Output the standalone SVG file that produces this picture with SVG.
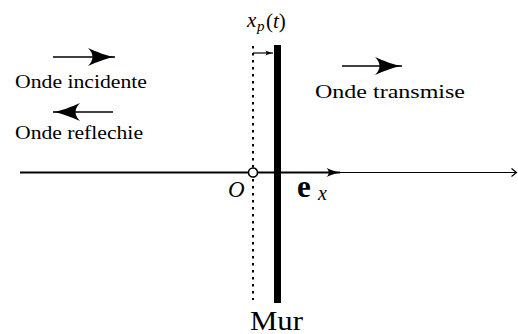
<svg xmlns="http://www.w3.org/2000/svg" width="518" height="334" viewBox="0 0 518 334">
<style>
text{font-family:'Liberation Serif','DejaVu Serif','Times New Roman',serif;fill:#000}
.i{font-style:italic}
.ln{stroke:#000;fill:none}
</style>
<defs>
<marker id="big" markerUnits="userSpaceOnUse" markerWidth="28" markerHeight="18" viewBox="0 0 28 18" refX="27" refY="9" orient="auto">
<path d="M27,9 C19,8 9,4 0,0 C6,6 6,12 0,18 C9,14 19,10 27,9 Z" fill="#000"/>
</marker>
<marker id="mid" markerUnits="userSpaceOnUse" markerWidth="16" markerHeight="9" viewBox="0 0 28 18" refX="27" refY="9" orient="auto">
<path d="M27,9 C19,8 9,4 0,0 C6,6 6,12 0,18 C9,14 19,10 27,9 Z" fill="#000"/>
</marker>
<marker id="small" markerUnits="userSpaceOnUse" markerWidth="8" markerHeight="6" viewBox="0 0 28 18" refX="27" refY="9" orient="auto">
<path d="M27,9 C19,8 9,4 0,0 C6,6 6,12 0,18 C9,14 19,10 27,9 Z" fill="#000"/>
</marker>
</defs>

<g id="connectors">
<line class="ln" x1="20" y1="172.5" x2="340" y2="172.5" stroke-width="2" marker-end="url(#mid)"/>
<line class="ln" x1="340" y1="172.5" x2="516" y2="172.5" stroke-width="1.2"/>
<polyline class="ln" points="511.5,168.5 516.5,172.5 511.5,176.5" stroke-width="1.2"/>
<line class="ln" x1="53" y1="57" x2="115" y2="57" stroke-width="1.6" marker-end="url(#big)"/>
<line class="ln" x1="113" y1="112" x2="53" y2="112" stroke-width="1.4" marker-end="url(#big)"/>
<line class="ln" x1="342" y1="66" x2="402" y2="66" stroke-width="1.6" marker-end="url(#big)"/>
<line class="ln" x1="253" y1="53" x2="273" y2="53" stroke-width="1.2" marker-end="url(#small)"/>
</g>

<g id="wall">
<line class="ln" x1="253" y1="46" x2="253" y2="300" stroke-width="2" stroke-dasharray="2.5 4.5"/>
<rect x="274" y="45" width="7" height="258" fill="#000"/>
</g>

<g id="origin">
<circle cx="253" cy="172.5" r="4.5" fill="#fff" stroke="#000" stroke-width="1.6"/>
<text class="i" x="228" y="196.5" font-size="23">O</text>
</g>

<g id="ex">
<text x="297" y="197" font-size="31" font-weight="bold">e</text>
<text class="i" x="318" y="200" font-size="20">x</text>
</g>

<g id="xp">
<text class="i" x="247" y="27" font-size="21">x</text>
<text class="i" x="257" y="31" font-size="15">p</text>
<text x="266" y="28" font-size="21">(<tspan class="i">t</tspan>)</text>
</g>

<g id="labels">
<text x="15" y="88" font-size="19.5" textLength="132" lengthAdjust="spacingAndGlyphs">Onde incidente</text>
<text x="15" y="139" font-size="19.5" textLength="128" lengthAdjust="spacingAndGlyphs">Onde reflechie</text>
<text x="315" y="98" font-size="19.5" textLength="150" lengthAdjust="spacingAndGlyphs">Onde transmise</text>
<text x="250" y="329.5" font-size="28" textLength="53" lengthAdjust="spacingAndGlyphs">Mur</text>
</g>
</svg>
